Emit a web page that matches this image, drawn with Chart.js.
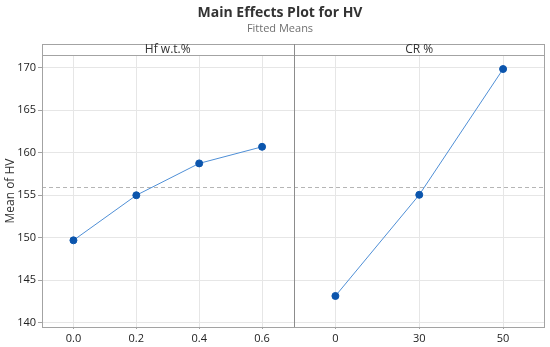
<!DOCTYPE html>
<html>
<head>
<meta charset="utf-8">
<script src="https://cdn.jsdelivr.net/npm/chart.js@4/dist/chart.umd.min.js"></script>
<style>
html,body{margin:0;padding:0;background:#fff;}
#wrap{width:550px;height:347px;position:relative;}
</style>
</head>
<body>
<div id="wrap"><canvas id="c" width="550" height="347"></canvas></div>
<script>
const chartTitle = 'Main Effects Plot for HV';
const chartSubtitle = 'Fitted Means';
const yAxisTitle = 'Mean of HV';
const panelTitles = ['Hf w.t.%', 'CR %'];
const hfLabels = ['0.0', '0.2', '0.4', '0.6'];
const hfMeans = [149.7, 155.0, 158.75, 160.7];
const crLabels = ['0', '30', '50'];
const crMeans = [143.15, 155.05, 169.85];
const overallMean = 156.0;
const yTicks = [140, 145, 150, 155, 160, 165, 170];
const yRange = [139.5, 171.5];

const FONT = '"Open Sans", "Noto Sans", sans-serif';
const lineColor = '#4f8fd6';
const pointColor = '#0b55ad';
const gridColor = '#e6e6e6';
const boxColor = '#a3a3a3';

const framePlugin = {
  id: 'frame',
  beforeDatasetsDraw(chart) {
    const ctx = chart.ctx, a = chart.chartArea, y = chart.scales.y;
    const py = Math.round(y.getPixelForValue(overallMean)) + 0.5;
    ctx.save();
    ctx.strokeStyle = '#b5b5b5';
    ctx.lineWidth = 1;
    ctx.setLineDash([4, 3]);
    ctx.beginPath();
    ctx.moveTo(a.left, py);
    ctx.lineTo(a.right, py);
    ctx.stroke();
    ctx.restore();
  },
  afterDraw(chart) {
    const ctx = chart.ctx, a = chart.chartArea;
    const x1 = chart.scales.x1, x2 = chart.scales.x2;
    const hTop = a.top - 11;
    ctx.save();
    ctx.textAlign = 'center';
    ctx.textBaseline = 'middle';
    ctx.fillStyle = '#333333';
    ctx.font = 'bold 14px ' + FONT;
    ctx.fillText(chartTitle, 280, 13);
    ctx.fillStyle = '#707070';
    ctx.font = '11px ' + FONT;
    ctx.fillText(chartSubtitle, 280, 29);
    ctx.strokeStyle = boxColor;
    ctx.lineWidth = 1;
    ctx.strokeRect(Math.round(a.left) + 0.5, Math.round(hTop) + 0.5,
      Math.round(a.right - a.left) - 1, Math.round(a.bottom - hTop));
    ctx.beginPath();
    ctx.moveTo(a.left, Math.round(a.top) + 0.5);
    ctx.lineTo(a.right, Math.round(a.top) + 0.5);
    ctx.stroke();
    ctx.strokeStyle = '#8c8c8c';
    ctx.beginPath();
    const dx = Math.round(x2.left) + 0.5;
    ctx.moveTo(dx, hTop);
    ctx.lineTo(dx, a.bottom);
    ctx.stroke();
    ctx.fillStyle = '#333333';
    ctx.font = '12px ' + FONT;
    ctx.fillText(panelTitles[0], (x1.left + x1.right) / 2, hTop + 6);
    ctx.fillText(panelTitles[1], (x2.left + x2.right) / 2, hTop + 6);
    ctx.restore();
  }
};

const xCommon = {
  type: 'category',
  position: 'bottom',
  stack: 'panels',
  stackWeight: 1,
  offset: true,
  grid: { offset: false, color: gridColor, tickColor: boxColor, tickLength: 2 },
  border: { display: false },
  ticks: { color: '#222', font: { family: FONT, size: 11 }, padding: 3, maxRotation: 0, autoSkip: false },
  afterFit(s) { s.height = 20; }
};

new Chart(document.getElementById('c'), {
  type: 'line',
  data: {
    datasets: [
      { label: panelTitles[0], data: hfMeans, xAxisID: 'x1', yAxisID: 'y' },
      { label: panelTitles[1], data: crMeans, xAxisID: 'x2', yAxisID: 'y' }
    ].map(d => Object.assign(d, {
      borderColor: lineColor, borderWidth: 1, backgroundColor: pointColor,
      pointBackgroundColor: pointColor, pointBorderColor: pointColor,
      pointRadius: 3.5, tension: 0, fill: false
    }))
  },
  options: {
    responsive: false,
    animation: false,
    layout: { padding: { top: 55, right: 4, left: 0, bottom: 0 } },
    plugins: { legend: { display: false }, tooltip: { enabled: false }, title: { display: false } },
    scales: {
      x1: Object.assign({}, xCommon, { labels: hfLabels }),
      x2: Object.assign({}, xCommon, { labels: crLabels }),
      y: {
        type: 'linear',
        min: yRange[0], max: yRange[1],
        afterBuildTicks(s) { s.ticks = yTicks.map(v => ({ value: v })); },
        afterFit(s) { s.width = 42; },
        grid: { color: gridColor, tickColor: boxColor, tickLength: 4 },
        border: { display: false },
        ticks: { color: '#222', font: { family: FONT, size: 11 }, padding: 2 },
        title: { display: true, text: yAxisTitle, color: '#333', font: { family: FONT, size: 12 }, padding: { top: 3, bottom: 0 } }
      }
    }
  },
  plugins: [framePlugin]
});
</script>
</body>
</html>
